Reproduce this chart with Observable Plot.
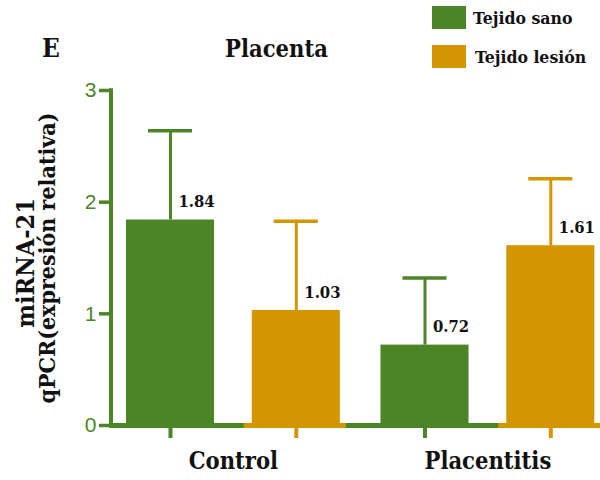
<!DOCTYPE html>
<html><head><meta charset="utf-8">
<script src="https://cdn.jsdelivr.net/npm/d3@7"></script>
<script src="https://cdn.jsdelivr.net/npm/@observablehq/plot@0.6"></script>
<style>
body{margin:0;background:#fff;}
#chart{position:relative;width:600px;height:480px;}
</style></head><body><div id="chart"></div>
<script>
const groups = ["Control", "Placentitis"];
const tejidos = ["Tejido sano", "Tejido lesión"];
const sanoValues = [1.84, 0.72];
const lesionValues = [1.03, 1.61];
const sanoErrors = [0.80, 0.60];
const lesionErrors = [0.80, 0.60];
const yTicks = [0, 1, 2, 3];
const colors = ["#4c8526", "#d49600"];
const titleText = "Placenta";
const panelLetter = "E";
const yTitleLines = ["miRNA-21", "qPCR(expresión relativa)"];

const data = groups.flatMap((g, i) => [
  {group: g, tejido: tejidos[0], value: sanoValues[i], err: sanoErrors[i]},
  {group: g, tejido: tejidos[1], value: lesionValues[i], err: lesionErrors[i]}
]);

const SERIF = "'DejaVu Serif Condensed', 'DejaVu Serif', serif";
const green = colors[0];
const ink = "#111";

const plot = Plot.plot({
  width: 600, height: 480,
  marginTop: 90, marginBottom: 55, marginLeft: 111, marginRight: 0,
  style: {color: green, background: "white"},
  fx: {domain: groups, range: [111, 609.3], paddingInner: 0.042, paddingOuter: 0, round: false, axis: null, label: null},
  x: {domain: tejidos, paddingInner: 0.3, paddingOuter: 0.119, round: false, axis: null, label: null},
  y: {domain: [0, 3], label: null},
  color: {domain: tejidos, range: colors},
  marks: [
    Plot.axisY({ticks: yTicks, tickSize: 12, tickPadding: 3, fontSize: 21,
      fontFamily: "'Liberation Sans', Arial, sans-serif", strokeWidth: 3.5, label: null, tickFormat: d => String(d)}),
    Plot.barY(data, {fx: "group", x: "tejido", y: "value", fill: "tejido"}),
    Plot.tickY(data.filter(d => d.tejido === tejidos[1]), {fx: "group", x: "tejido", y: d => 0,
      stroke: "tejido", strokeWidth: 5, insetLeft: -8, insetRight: -6}),
    Plot.ruleX(data, {fx: "group", x: "tejido", y1: d => 0, y2: d => 0, stroke: "tejido",
      strokeWidth: 4, insetTop: 0, insetBottom: -13}),
    Plot.ruleX(data, {fx: "group", x: "tejido", y1: "value", y2: d => d.value + d.err,
      stroke: "tejido", strokeWidth: 3}),
    Plot.tickY(data, {fx: "group", x: "tejido", y: d => d.value + d.err, stroke: "tejido",
      strokeWidth: 3.5, insetLeft: 22, insetRight: 22}),
    Plot.text(data, {fx: "group", x: "tejido", y: "value", text: d => d.value.toFixed(2),
      textAnchor: "start", dx: 8, dy: -18, fontSize: 16.5, fontWeight: "bold", fontFamily: SERIF, fill: ink}),
    Plot.text(groups, {fx: d => d, text: d => d, frameAnchor: "bottom", dy: 43.5,
      fontSize: 23.5, fontWeight: "bold", fontFamily: SERIF, fill: ink})
  ]
});

document.getElementById("chart").appendChild(plot);

const svg = d3.select(plot);
const y = plot.scale("y");
const y0 = y.apply(0), y3 = y.apply(3);

// axis lines
svg.insert("line", "g").attr("x1", 111).attr("x2", 600).attr("y1", y0 + 0.5).attr("y2", y0 + 0.5)
  .attr("stroke", green).attr("stroke-width", 5);
svg.append("line").attr("x1", 111).attr("x2", 111).attr("y1", y3 - 1.75).attr("y2", y0 + 3)
  .attr("stroke", green).attr("stroke-width", 4);

svg.selectAll("g[font-family*='DejaVu']").style("font-stretch", "condensed");

const t = svg.append("g").attr("font-family", SERIF).attr("font-weight", "bold")
  .attr("text-anchor", "start").style("font-stretch", "condensed").attr("fill", ink);

t.append("text").attr("x", 42).attr("y", 57).attr("font-size", 26).text(panelLetter);
t.append("text").attr("x", 276.5).attr("y", 57).attr("font-size", 23.5).attr("text-anchor", "middle").text(titleText);

// legend
const leg = [{y: 6, base: 24}, {y: 45, base: 63}];
tejidos.forEach((name, i) => {
  t.append("rect").attr("x", 432).attr("y", leg[i].y).attr("width", 34).attr("height", 23).attr("fill", colors[i]);
  t.append("text").attr("x", 473 + i * 2).attr("y", leg[i].base).attr("font-size", 17.5).text(name);
});

// y title
t.append("text").attr("transform", "translate(34,263) rotate(-90)").attr("text-anchor", "middle")
  .attr("font-size", 25).text(yTitleLines[0]);
t.append("text").attr("transform", "translate(55,258) rotate(-90)").attr("text-anchor", "middle")
  .attr("font-size", 23).text(yTitleLines[1]);
</script></body></html>
